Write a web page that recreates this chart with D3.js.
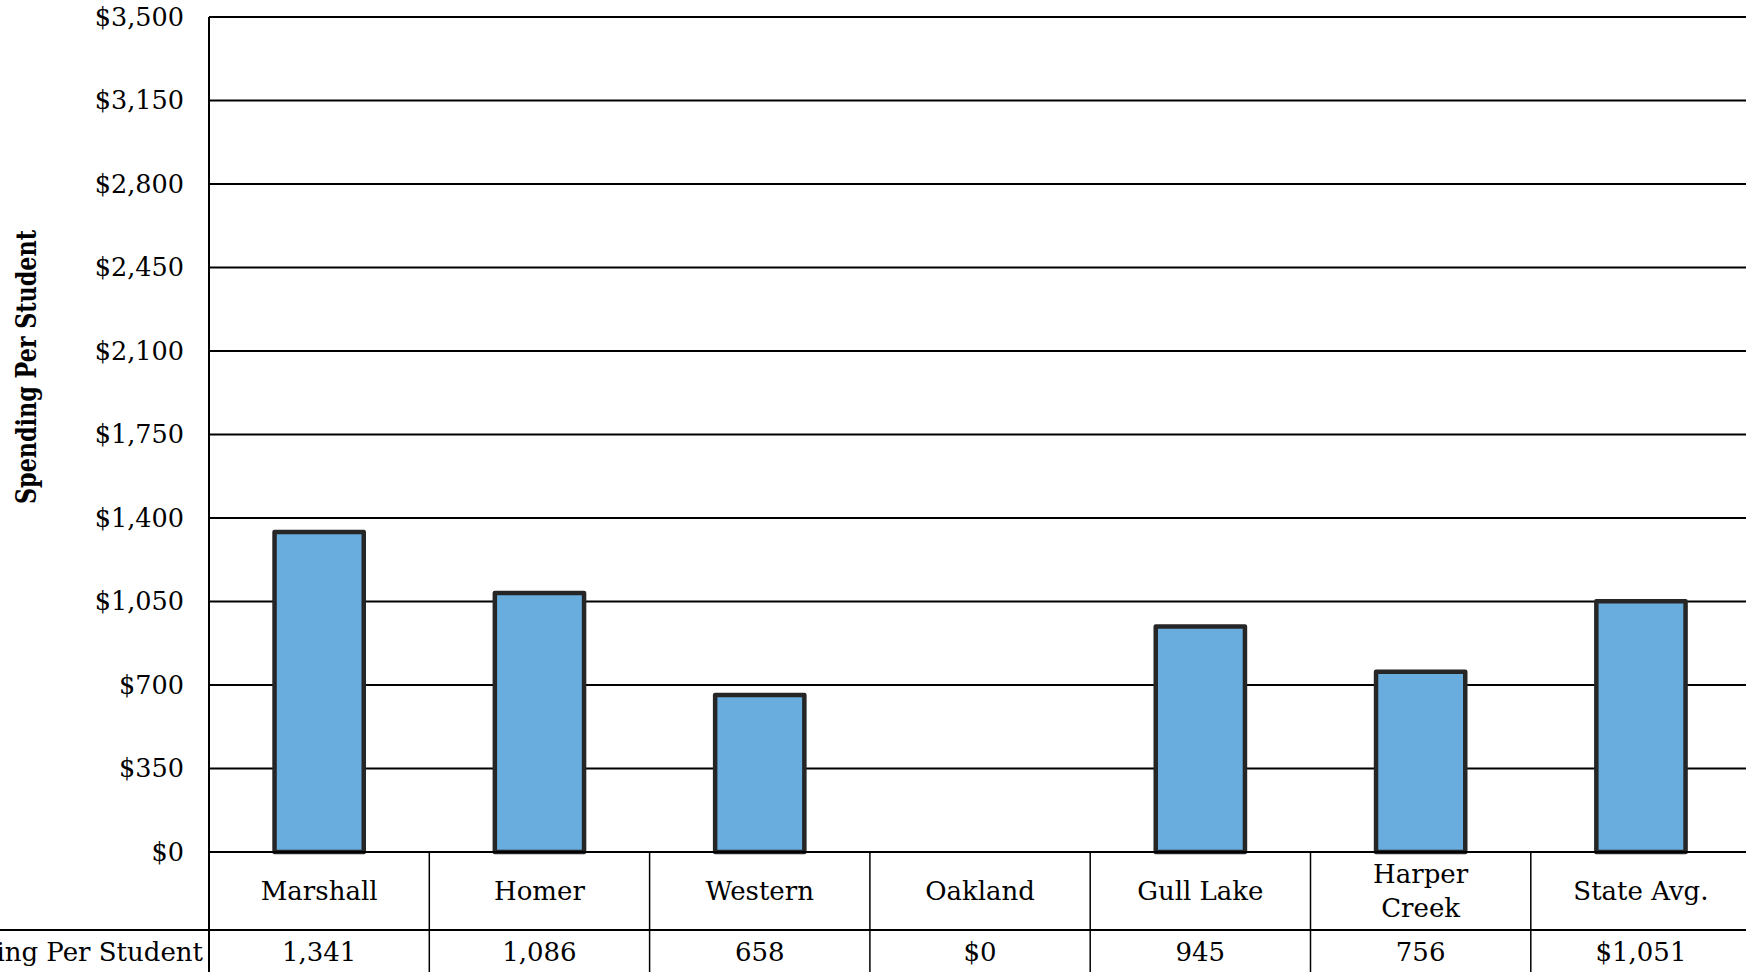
<!DOCTYPE html>
<html><head><meta charset="utf-8">
<script src="https://cdn.jsdelivr.net/npm/d3@7"></script>
<style>
html,body{margin:0;padding:0;background:#fff;overflow:hidden;}
svg{display:block;}
text{font-family:"DejaVu Serif",serif;fill:#000;}
</style></head>
<body>
<svg id="chart" width="1746" height="972"></svg>
<script>
const categories = ["Marshall","Homer","Western","Oakland","Gull Lake","Harper Creek","State Avg."];
const categoryLines = [["Marshall"],["Homer"],["Western"],["Oakland"],["Gull Lake"],["Harper","Creek"],["State Avg."]];
const values = [1341,1086,658,0,945,756,1051];
const valueLabels = ["1,341","1,086","658","$0","945","756","$1,051"];
const yTicks = [0,350,700,1050,1400,1750,2100,2450,2800,3150,3500];
const seriesName = "Spending Per Student";
const yTitle = "Spending Per Student";

(function(){
const svg = d3.select("#chart");
const left = 209, plotTop = 17, plotBottom = 852, cellW = 220.3;
const tableRow1 = 930;

const x = d3.scaleBand().domain(categories).range([left, left + categories.length*cellW]).paddingInner(0).paddingOuter(0);
const y = d3.scaleLinear().domain([0,3500]).range([plotBottom, plotTop]);

// gridlines
svg.append("g").selectAll("line").data(yTicks).join("line")
  .attr("x1", left).attr("x2", 1746)
  .attr("y1", d=>y(d)).attr("y2", d=>y(d))
  .attr("stroke","#000").attr("stroke-width",2);

// y axis labels
const yAxis = d3.axisLeft(y).tickValues(yTicks).tickSize(0).tickPadding(0)
  .tickFormat(d=>"$"+d3.format(",")(d));
const gy = svg.append("g").attr("transform",`translate(${left-25},0)`).call(yAxis);
gy.select(".domain").remove();
gy.selectAll("text").attr("font-family","DejaVu Serif").attr("font-size",25.5).attr("fill","#000");

// y title
svg.append("text").attr("transform",`translate(36,367) rotate(-90)`)
  .attr("text-anchor","middle").attr("font-weight","bold").attr("font-size",28)
  .attr("textLength",274).attr("lengthAdjust","spacingAndGlyphs")
  .text(yTitle);

// bars
const bw = x.bandwidth()*0.405;
svg.append("g").selectAll("rect").data(values.map((v,i)=>({c:categories[i],v})).filter(d=>d.v>0)).join("rect")
  .attr("x", d=>x(d.c)+x.bandwidth()/2-bw/2)
  .attr("y", d=>y(d.v))
  .attr("width", bw)
  .attr("height", d=>y(0)-y(d.v))
  .attr("fill","#69ACDE").attr("stroke","#262626").attr("stroke-width",4.5).attr("stroke-linejoin","round");

// table lines
const tbl = svg.append("g");
tbl.append("line").attr("x1",left).attr("x2",1746).attr("y1",plotBottom).attr("y2",plotBottom).attr("stroke","#000").attr("stroke-width",2);
tbl.append("line").attr("x1",0).attr("x2",1746).attr("y1",tableRow1).attr("y2",tableRow1).attr("stroke","#000").attr("stroke-width",2);
tbl.append("line").attr("x1",left).attr("x2",left).attr("y1",plotTop).attr("y2",972).attr("stroke","#000").attr("stroke-width",2);
tbl.selectAll(".div").data(categories.slice(1)).join("line")
  .attr("x1",d=>x(d)).attr("x2",d=>x(d)).attr("y1",plotBottom).attr("y2",972)
  .attr("stroke","#000").attr("stroke-width",1.5);

// category labels
svg.append("g").selectAll("text").data(categories).join("text")
  .attr("text-anchor","middle").attr("font-size",26)
  .each(function(d,i){
    const lines = categoryLines[i];
    const t = d3.select(this);
    const cy = 891, lh = 34;
    lines.forEach((l,j)=>{
      t.append("tspan").attr("x", x(d)+x.bandwidth()/2)
        .attr("y", cy + (j-(lines.length-1)/2)*lh).attr("dy","0.35em").text(l);
    });
  });

// value row
svg.append("g").selectAll("text").data(valueLabels).join("text")
  .attr("text-anchor","middle").attr("font-size",26)
  .attr("x",(d,i)=>x(categories[i])+x.bandwidth()/2)
  .attr("y",952).attr("dy","0.35em").text(d=>d);

svg.append("text").attr("text-anchor","end").attr("font-size",26)
  .attr("x",left-6).attr("y",952).attr("dy","0.35em").text(seriesName);
})();
</script>
</body></html>
